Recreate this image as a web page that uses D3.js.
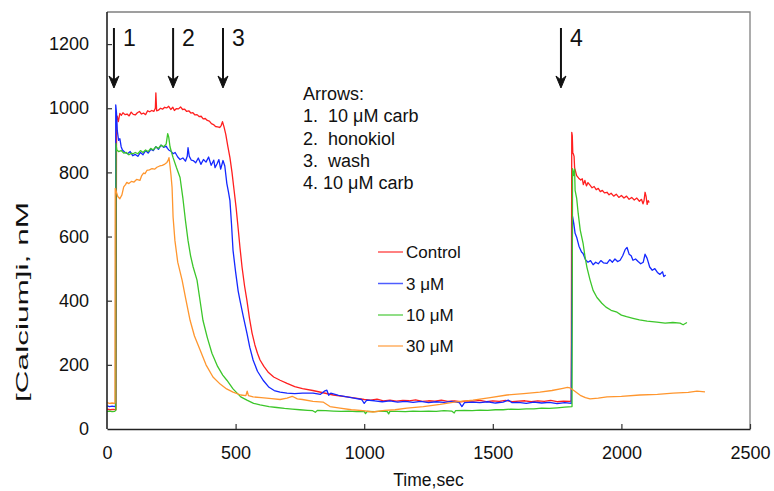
<!DOCTYPE html>
<html>
<head>
<meta charset="utf-8">
<script src="https://cdn.jsdelivr.net/npm/d3@7"></script>
<style>
  html, body { margin: 0; padding: 0; background: #fff; }
  svg { display: block; font-family: "Liberation Sans", Arial, Helvetica, sans-serif; }
</style>
</head>
<body>
<svg id="chart" width="774" height="491"></svg>
<script>
// ---------- data (time in sec, [Ca]i in nM) ----------
const seriesNames = ["Control", "3 μM", "10 μM", "30 μM"];
const seriesColors = ["#ff1f1f", "#1428ff", "#3cc62a", "#ff962e"];

const control = [
[0,62],[12,60],[24,61],[35,60],[37,962],[40,975],[44,958],[50,984],[56,978],[62,986],[70,980],[78,982],[86,976],[94,988],[102,981],[110,979],[118,986],[126,990],[134,982],[142,985],[150,980],[158,992],[166,989],[174,993],[182,990],[188,1000],[190,1048],[193,992],[200,994],[208,1000],[216,997],[224,1003],[232,1001],[240,1006],[248,996],[256,1003],[262,993],[270,999],[278,998],[286,1004],[294,996],[302,997],[310,990],[318,992],[326,985],[334,986],[342,979],[350,980],[358,974],[366,975],[374,967],[382,968],[390,962],[398,960],[406,952],[414,949],[422,943],[430,942],[438,940],[444,946],[449,958],[455,942],[462,918],[470,880],[478,846],[486,800],[494,745],[502,690],[510,625],[517,566],[525,505],[535,445],[544,401],[554,345],[564,299],[575,262],[585,236],[595,215],[610,195],[628,176],[648,162],[673,152],[700,142],[730,132],[760,126],[800,120],[840,113],[880,106],[933,100],[980,95],[1000,92],[1025,90],[1050,93],[1075,88],[1100,90],[1125,87],[1150,89],[1175,88],[1200,91],[1225,86],[1250,88],[1275,87],[1300,90],[1325,86],[1350,88],[1375,85],[1400,88],[1425,87],[1450,89],[1475,85],[1500,88],[1525,86],[1550,89],[1575,85],[1600,87],[1625,88],[1650,85],[1675,88],[1700,86],[1725,89],[1750,85],[1775,87],[1800,86],[1805,88],[1807,925],[1809,915],[1811,860],[1813,858],[1816,850],[1818,815],[1826,790],[1834,782],[1842,776],[1848,780],[1852,762],[1858,775],[1864,758],[1870,768],[1878,760],[1886,752],[1894,756],[1902,746],[1910,750],[1918,740],[1926,744],[1934,736],[1944,738],[1952,730],[1960,735],[1970,726],[1980,732],[1990,722],[2000,728],[2010,720],[2020,726],[2030,716],[2040,722],[2050,714],[2060,720],[2070,710],[2078,716],[2084,702],[2088,712],[2092,738],[2096,725],[2100,700],[2104,712],[2108,706]
];

const hk3 = [
[0,72],[10,70],[20,71],[30,70],[33,72],[34,1010],[37,985],[40,930],[45,900],[50,905],[55,880],[60,870],[70,862],[80,858],[90,865],[100,852],[110,856],[120,850],[130,862],[140,855],[150,868],[160,860],[170,872],[180,868],[190,880],[200,872],[210,885],[220,878],[230,882],[235,875],[240,870],[250,865],[257,858],[265,862],[275,848],[284,840],[295,845],[305,835],[312,850],[315,877],[320,850],[328,838],[335,837],[345,830],[355,845],[365,825],[375,840],[385,832],[395,848],[405,822],[415,838],[420,815],[428,827],[435,840],[442,810],[451,837],[458,820],[466,765],[472,740],[478,712],[484,640],[490,557],[500,490],[510,430],[517,401],[530,350],[544,299],[555,255],[568,215],[585,180],[607,152],[630,130],[650,120],[673,115],[700,112],[730,110],[760,112],[801,112],[830,108],[845,118],[855,121],[862,105],[870,112],[900,105],[933,100],[960,96],[990,92],[1000,80],[1010,90],[1040,88],[1070,85],[1100,88],[1130,84],[1160,86],[1190,83],[1220,86],[1250,82],[1280,85],[1310,83],[1340,86],[1370,82],[1380,70],[1390,82],[1420,84],[1450,82],[1480,85],[1510,81],[1540,84],[1560,90],[1575,82],[1600,83],[1630,80],[1660,84],[1690,81],[1720,83],[1750,79],[1780,82],[1805,80],[1810,663],[1815,640],[1820,610],[1826,598],[1835,570],[1845,552],[1851,547],[1860,528],[1870,520],[1880,525],[1890,512],[1900,520],[1910,515],[1920,525],[1930,518],[1944,516],[1955,528],[1965,520],[1975,530],[1985,522],[1995,526],[2005,540],[2015,560],[2022,566],[2030,545],[2038,540],[2045,526],[2055,530],[2065,522],[2075,515],[2085,520],[2092,545],[2100,532],[2110,505],[2120,495],[2130,500],[2140,488],[2150,482],[2160,490],[2165,475],[2172,480]
];

const hk10 = [
[0,55],[10,56],[20,54],[30,55],[34,58],[35,890],[38,870],[45,865],[55,868],[65,860],[75,862],[85,855],[95,860],[101,858],[110,862],[120,858],[130,868],[140,862],[150,870],[160,865],[170,875],[180,870],[190,880],[200,875],[210,885],[220,880],[230,888],[236,921],[240,910],[245,880],[250,865],[257,846],[270,815],[284,784],[295,720],[305,650],[315,588],[325,540],[335,505],[350,464],[360,410],[373,339],[390,285],[408,236],[430,195],[450,168],[466,152],[490,125],[520,100],[544,90],[570,80],[595,75],[630,70],[660,67],[690,64],[720,62],[750,60],[780,58],[800,57],[810,52],[818,58],[850,57],[880,56],[910,55],[940,56],[970,54],[1000,55],[1005,48],[1012,55],[1040,54],[1070,56],[1090,54],[1095,47],[1100,55],[1130,55],[1160,54],[1190,56],[1220,55],[1250,56],[1280,55],[1310,57],[1340,56],[1350,50],[1355,57],[1390,58],[1420,57],[1450,59],[1480,58],[1510,60],[1540,60],[1570,62],[1600,61],[1630,63],[1660,63],[1690,65],[1720,64],[1750,66],[1780,68],[1808,70],[1810,812],[1814,790],[1818,810],[1820,744],[1826,720],[1832,672],[1840,620],[1851,579],[1858,540],[1866,504],[1878,465],[1890,432],[1905,410],[1924,392],[1940,380],[1960,370],[1983,364],[2000,355],[2020,350],[2045,345],[2070,340],[2100,336],[2138,333],[2170,330],[2200,332],[2228,330],[2240,325],[2255,332]
];

const hk30 = [
[0,82],[10,80],[20,81],[30,80],[31,82],[32,750],[36,740],[42,725],[50,718],[58,730],[65,755],[72,762],[77,769],[85,765],[95,772],[105,770],[115,778],[128,775],[135,790],[142,798],[148,796],[155,806],[165,808],[175,812],[185,810],[194,816],[205,820],[215,822],[225,826],[233,831],[238,838],[241,846],[245,820],[249,790],[253,753],[257,660],[264,588],[275,520],[292,464],[305,410],[323,339],[340,290],[362,246],[385,200],[412,162],[440,140],[465,125],[490,115],[520,106],[540,104],[545,118],[550,104],[568,100],[600,98],[640,95],[673,92],[700,96],[720,102],[740,94],[760,92],[801,86],[840,84],[867,70],[906,65],[950,60],[995,57],[1034,53],[1080,58],[1120,60],[1166,65],[1230,70],[1295,77],[1350,84],[1423,90],[1490,98],[1555,106],[1620,110],[1683,115],[1730,120],[1773,127],[1790,130],[1800,128],[1815,120],[1840,105],[1860,98],[1878,94],[1910,96],[1944,100],[2000,102],[2072,106],[2140,108],[2201,112],[2260,114],[2294,118],[2325,116]
];

const allSeries = [control, hk3, hk10, hk30];

const yTicks = [0, 200, 400, 600, 800, 1000, 1200];
const xTicks = [0, 500, 1000, 1500, 2000, 2500];
const arrowTimes = [27, 257, 451, 1765];
const arrowLabels = ["1", "2", "3", "4"];
const noteLines = ["Arrows:", "1.  10 μM carb", "2.  honokiol", "3.  wash", "4. 10 μM carb"];

// ---------- drawing ----------
const svg = d3.select("#chart");
const L = 107, R = 750, T = 12, B = 429;
const x = d3.scaleLinear().domain([0, 2500]).range([L, R]);
const y = d3.scaleLinear().domain([0, 1300]).range([B, T]);

// frame (top/right)
svg.append("path")
  .attr("d", `M${L},${T}H${R}V${B}`)
  .attr("fill", "none").attr("stroke", "#808080").attr("stroke-width", 1.3);

// lines
const line = d3.line().x(d => x(d[0])).y(d => y(d[1]));
allSeries.forEach((s, i) => {
  svg.append("path").datum(s)
    .attr("d", line)
    .attr("fill", "none")
    .attr("stroke", seriesColors[i])
    .attr("stroke-width", 1.3)
    .attr("stroke-linejoin", "round");
});

// axes
const fmt = d3.format("d");
const yAxis = d3.axisLeft(y).tickValues(yTicks).tickFormat(fmt).tickSizeInner(-5).tickSizeOuter(0).tickPadding(18);
const gy = svg.append("g").attr("transform", `translate(${L},0)`).call(yAxis);
const xAxis = d3.axisBottom(x).tickValues(xTicks).tickFormat(fmt).tickSizeInner(-5).tickSizeOuter(0).tickPadding(17);
const gx = svg.append("g").attr("transform", `translate(0,${B})`).call(xAxis);
[gy, gx].forEach(g => {
  g.select(".domain").attr("stroke", "#222").attr("stroke-width", 1.6);
  g.selectAll(".tick line").attr("stroke", "#333").attr("stroke-width", 1.2);
  g.selectAll(".tick text").attr("fill", "#111").attr("font-size", 18)
    .attr("font-family", "'Liberation Sans', Arial, sans-serif");
});
gx.selectAll(".tick").filter(d => d === 0).select("line").remove();
gy.selectAll(".tick").filter(d => d === 0).select("line").remove();
gy.select(".domain").attr("d", `M0,${B}V${T}`);

// axis titles
svg.append("text")
  .attr("x", (L + R) / 2).attr("y", 486)
  .attr("text-anchor", "middle").attr("font-size", 17.5).attr("fill", "#111")
  .text("Time,sec");
svg.append("text")
  .attr("transform", "translate(28,302) rotate(-90)")
  .attr("text-anchor", "middle").attr("font-size", 17).attr("fill", "#111")
  .attr("textLength", 200).attr("lengthAdjust", "spacingAndGlyphs")
  .text("[Calcium]i, nM");

// arrows
arrowTimes.forEach((t, i) => {
  const ax = x(t);
  svg.append("line").attr("x1", ax).attr("x2", ax).attr("y1", 28).attr("y2", 82)
    .attr("stroke", "#111").attr("stroke-width", 2);
  svg.append("path")
    .attr("d", `M${ax},88L${ax - 5},76L${ax},80L${ax + 5},76Z`)
    .attr("fill", "#111").attr("stroke", "#111").attr("stroke-width", 1);
  svg.append("text").attr("x", ax + 9).attr("y", 46)
    .attr("font-size", 23).attr("fill", "#111").text(arrowLabels[i]);
});

// note text
noteLines.forEach((s, i) => {
  svg.append("text").attr("x", 303).attr("y", 100 + i * 22.3)
    .attr("font-size", 18).attr("fill", "#111")
    .style("white-space", "pre").attr("xml:space", "preserve")
    .text(s);
});

// legend
const legY = [252, 283.5, 315, 346];
seriesNames.forEach((n, i) => {
  svg.append("line").attr("x1", 378).attr("x2", 403).attr("y1", legY[i]).attr("y2", legY[i])
    .attr("stroke", seriesColors[i]).attr("stroke-width", 1.5).attr("opacity", 0.75);
  svg.append("text").attr("x", 406).attr("y", legY[i] + 6)
    .attr("font-size", 17).attr("fill", "#111").text(n);
});
</script>
</body>
</html>
